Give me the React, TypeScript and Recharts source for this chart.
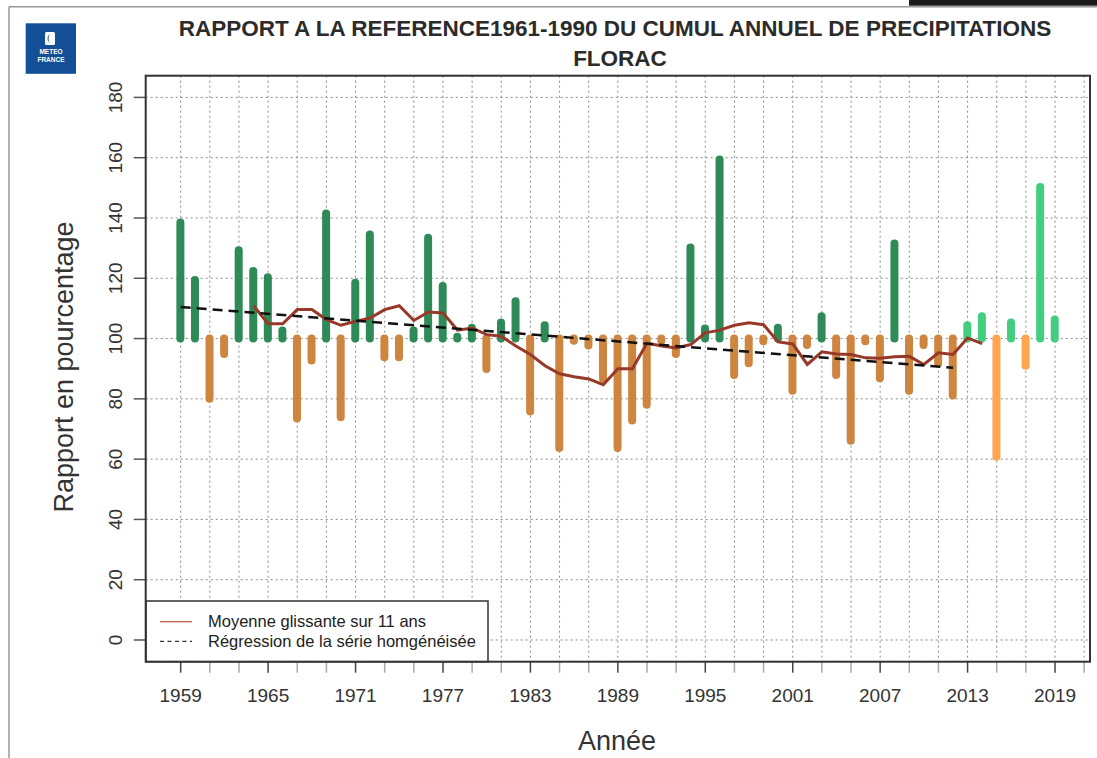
import { Bar, CartesianGrid, ComposedChart, Line, XAxis, YAxis } from 'recharts';

const YEARS = [
  1959, 1960, 1961, 1962, 1963, 1964, 1965, 1966, 1967, 1968,
  1969, 1970, 1971, 1972, 1973, 1974, 1975, 1976, 1977, 1978,
  1979, 1980, 1981, 1982, 1983, 1984, 1985, 1986, 1987, 1988,
  1989, 1990, 1991, 1992, 1993, 1994, 1995, 1996, 1997, 1998,
  1999, 2000, 2001, 2002, 2003, 2004, 2005, 2006, 2007, 2008,
  2009, 2010, 2011, 2012, 2013, 2014, 2015, 2016, 2017, 2018,
  2019,
];

// rapport a la normale 1961-1990, en %
const RATIO = [
  138.5, 119.4, 80.0, 94.9, 129.3, 122.4, 120.3, 102.7, 73.5, 92.7,
  141.5, 73.9, 118.5, 134.5, 93.8, 93.8, 102.7, 133.4, 117.4, 100.6,
  103.6, 89.9, 105.3, 112.4, 75.8, 104.4, 63.7, 99.3, 97.7, 86.7,
  63.7, 72.8, 78.0, 99.3, 94.9, 130.2, 103.3, 159.4, 87.9, 91.8,
  99.1, 103.6, 82.7, 97.9, 107.4, 87.9, 66.1, 99.1, 86.8, 131.5,
  82.7, 97.9, 91.7, 81.1, 104.4, 107.4, 60.8, 105.3, 91.0, 150.3,
  106.3,
];

// moyenne glissante 11 ans (centree), 1964 -> 2014
const MEAN_11Y = [
  null, null, null, null, null, 110.9, 104.9, 104.9, 109.6, 109.6,
  106.3, 104.4, 105.7, 106.8, 109.6, 110.9, 106.0, 108.8, 108.5, 102.8,
  103.5, 101.3, 100.8, 97.5, 94.7, 91.0, 88.3, 87.3, 86.6, 84.7,
  90.0, 90.0, 98.5, 97.5, 96.9, 98.0, 101.9, 102.8, 104.4, 105.2,
  104.6, 98.9, 98.2, 91.4, 95.6, 94.9, 94.7, 93.6, 93.5, 94.0,
  94.1, 91.4, 95.3, 94.7, 100.2, 98.3, null, null, null, null,
  null,
];

const REG_YEARS = [1959, 2012];
const REG_VALUES = [110.5, 90.3];
const LAST_HOMOGENISED = 2012;

const X_TICKS = [
  1959, 1961, 1963, 1965, 1967, 1969, 1971, 1973, 1975, 1977, 1979,
  1981, 1983, 1985, 1987, 1989, 1991, 1993, 1995, 1997, 1999, 2001,
  2003, 2005, 2007, 2009, 2011, 2013, 2015, 2017, 2019, 2021,
];
const X_LABELS = [1959, 1965, 1971, 1977, 1983, 1989, 1995, 2001, 2007, 2013, 2019];
const Y_TICKS = [0, 20, 40, 60, 80, 100, 120, 140, 160, 180];

const W = 1097;
const H = 758;
const PLOT = { left: 145.7, top: 75.7, right: 1090, bottom: 661.7 };
const FONT = '"Liberation Sans", Arial, Helvetica, sans-serif';

function colourFor(year: number, v: number) {
  const up = v >= 100;
  if (year > LAST_HOMOGENISED) return up ? '#43CD80' : '#FFA54F';
  return up ? '#2E8B57' : '#CD853F';
}

const rows = YEARS.map((year, i) => {
  const r = REG_YEARS.indexOf(year);
  return {
    year,
    range: [100, RATIO[i]],
    mean: MEAN_11Y[i],
    reg: r >= 0 ? REG_VALUES[r] : null,
    colour: colourFor(year, RATIO[i]),
  };
});

function Stick(props: any) {
  const { x, y, width, height, payload } = props;
  if (x == null || y == null) return null;
  const cx = x + width / 2;
  const top = Math.min(y, y + height);
  const h = Math.abs(height);
  return <rect x={cx - 4} y={top - 4} width={8} height={h + 8} rx={4} fill={payload.colour} />;
}

function XTick(props: any) {
  const { x, payload } = props;
  const labelled = X_LABELS.includes(payload.value);
  return (
    <g>
      <line x1={x} x2={x} y1={PLOT.bottom} y2={PLOT.bottom + 11} stroke={labelled ? '#444' : '#aaa'} strokeWidth={1.5} />
      {labelled && (
        <text x={x} y={702} textAnchor="middle" fontSize={19} fill="#333" fontFamily={FONT}>
          {payload.value}
        </text>
      )}
    </g>
  );
}

function YTick(props: any) {
  const { y, payload } = props;
  return (
    <g>
      <line x1={PLOT.left - 12} x2={PLOT.left} y1={y} y2={y} stroke="#555" strokeWidth={1.5} />
      <text
        x={122}
        y={y}
        transform={`rotate(-90, 122, ${y})`}
        textAnchor="middle"
        fontSize={19}
        fill="#333"
        fontFamily={FONT}
      >
        {payload.value}
      </text>
    </g>
  );
}

function Overlay() {
  return (
    <svg width={W} height={H} style={{ position: 'absolute', left: 0, top: 0, pointerEvents: 'none' }}>
      {/* cadre de la page */}
      <line x1={9} x2={W} y1={6.7} y2={6.7} stroke="#999" strokeWidth={1.5} />
      <line x1={9} x2={9} y1={6.7} y2={H} stroke="#999" strokeWidth={1.5} />
      <rect x={909} y={0} width={W - 909} height={5.7} fill="#1a1a1a" />

      {/* logo */}
      <rect x={25.7} y={23.3} width={50.3} height={50.5} fill="#124f96" />
      <rect x={45} y={32} width={10} height={13} rx={1.5} fill="#fff" />
      <path d="M51.5 34 A4 4.5 0 0 0 51.5 43 A3 4.5 0 0 1 51.5 34 Z" fill="#124f96" />
      <text x={51} y={54} textAnchor="middle" fontSize={6.5} fontWeight="bold" fill="#fff" fontFamily={FONT}>METEO</text>
      <text x={51} y={62} textAnchor="middle" fontSize={6.5} fontWeight="bold" fill="#fff" fontFamily={FONT}>FRANCE</text>

      {/* titre */}
      <text x={615} y={36} textAnchor="middle" fontSize={22.5} fontWeight="bold" fill="#2b2b2b" fontFamily={FONT}>
        RAPPORT A LA REFERENCE1961-1990 DU CUMUL ANNUEL DE PRECIPITATIONS
      </text>
      <text x={620} y={66} textAnchor="middle" fontSize={22.5} fontWeight="bold" fill="#2b2b2b" fontFamily={FONT}>
        FLORAC
      </text>

      {/* titres des axes */}
      <text
        x={73}
        y={367}
        transform="rotate(-90, 73, 367)"
        textAnchor="middle"
        fontSize={27}
        fill="#333"
        fontFamily={FONT}
      >
        Rapport en pourcentage
      </text>
      <text x={617} y={750} textAnchor="middle" fontSize={27} fill="#333" fontFamily={FONT}>
        Année
      </text>

      {/* legende */}
      <rect x={146} y={601} width={342} height={60.7} fill="#fff" stroke="#333" strokeWidth={1.5} />
      <line x1={160} x2={192} y1={621.7} y2={621.7} stroke="#b5533f" strokeWidth={1.2} />
      <line x1={160} x2={192} y1={641.3} y2={641.3} stroke="#333" strokeWidth={1.2} strokeDasharray="4 3.5" />
      <text x={208} y={627} fontSize={16.5} fill="#222" fontFamily={FONT}>Moyenne glissante sur 11 ans</text>
      <text x={208} y={646.5} fontSize={16.5} fill="#222" fontFamily={FONT}>Régression de la série homgénéisée</text>

      {/* boite du graphique */}
      <rect
        x={PLOT.left}
        y={PLOT.top}
        width={PLOT.right - PLOT.left}
        height={PLOT.bottom - PLOT.top}
        fill="none"
        stroke="#333"
        strokeWidth={2}
      />
    </svg>
  );
}

export default function App() {
  return (
    <div style={{ position: 'absolute', left: 0, top: 0, width: W, height: H, background: '#fff', fontFamily: FONT }}>
      <ComposedChart
        width={W}
        height={H}
        data={rows}
        margin={{ top: PLOT.top, right: W - PLOT.right, bottom: H - PLOT.bottom - 40, left: PLOT.left - 60 }}
      >
        <CartesianGrid stroke="#8a8a8a" strokeDasharray="2 3" strokeWidth={1} />
        <XAxis
          dataKey="year"
          type="number"
          domain={[1956.6, 2021.4]}
          ticks={X_TICKS}
          interval={0}
          allowDataOverflow
          axisLine={false}
          tickLine={false}
          height={40}
          tick={<XTick />}
        />
        <YAxis
          type="number"
          domain={[-7.2, 187.2]}
          ticks={Y_TICKS}
          interval={0}
          allowDataOverflow
          axisLine={false}
          tickLine={false}
          width={60}
          tick={<YTick />}
        />
        <Bar dataKey="range" barSize={8} isAnimationActive={false} shape={(p: any) => <Stick {...p} />} />
        <Line
          dataKey="mean"
          stroke="#983828"
          strokeWidth={3}
          dot={false}
          isAnimationActive={false}
        />
        <Line
          dataKey="reg"
          stroke="#111"
          strokeWidth={2.5}
          strokeDasharray="10 6"
          dot={false}
          connectNulls
          isAnimationActive={false}
        />
      </ComposedChart>
      <Overlay />
    </div>
  );
}
